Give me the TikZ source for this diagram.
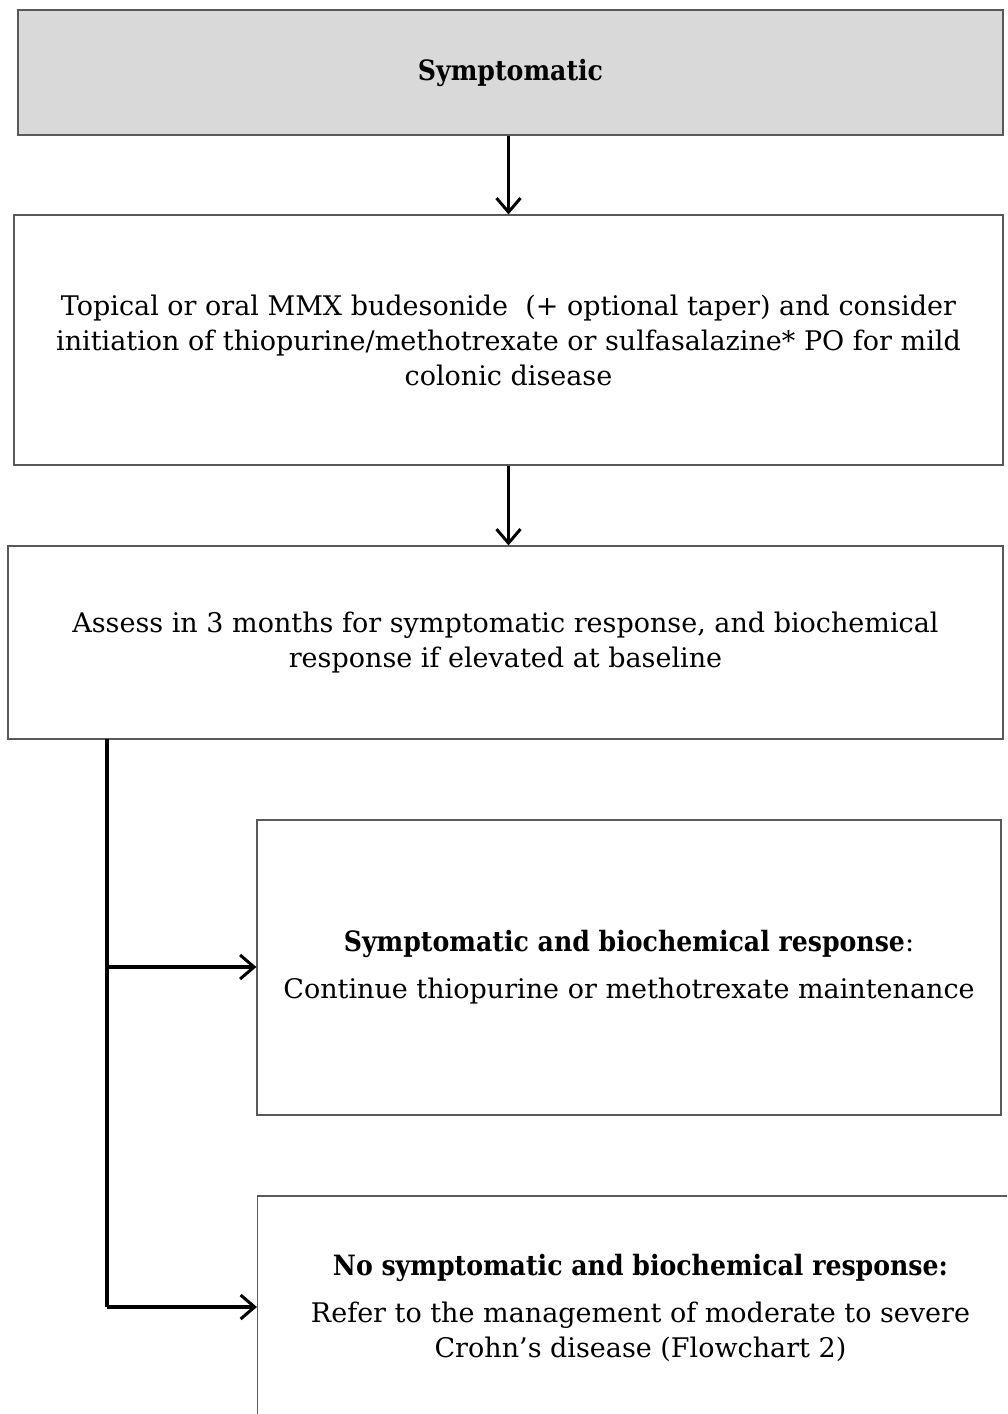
\documentclass[tikz,border=0pt]{standalone}
\usepackage{fontspec}
\setmainfont{DejaVu Serif}
\newfontfamily\headfont{DejaVu Serif Condensed}
\usepackage{tikz}
\usetikzlibrary{arrows.meta}

\definecolor{headgray}{RGB}{217,217,217}

\newcommand{\headtxt}[1]{{\headfont\bfseries\fontsize{14}{17.5}\selectfont #1}}

\tikzset{
  flowbox/.style={draw=black!65, line width=0.6pt, align=center, inner sep=0pt,
    font=\fontsize{13.5}{17.5}\selectfont},
  flowarrow/.style={line width=1.5pt, -{Straight Barb[length=7pt,width=12pt,line width=1.5pt]}},
}

\begin{document}
\begin{tikzpicture}[x=0.5pt,y=-0.5pt]

    \useasboundingbox (0,0) rectangle (1007,1414);
    \clip (0,0) rectangle (1007,1414);

    \node [flowbox, fill=headgray, minimum width=492.5pt, minimum height=62.5pt]
        (start) at (510.5,72.5) {\headtxt{Symptomatic}};

    \node [flowbox, minimum width=494.5pt, minimum height=125pt]
        (therapy) at (508.5,340)
        {Topical or oral MMX budesonide~ (+ optional taper) and consider\\
         initiation of thiopurine/methotrexate or sulfasalazine* PO for mild\\
         colonic disease};

    \node [flowbox, minimum width=497.5pt, minimum height=96.5pt]
        (assess) at (505.5,642.5)
        {Assess in 3 months for symptomatic response, and biochemical\\
         response if elevated at baseline};

    \node [flowbox, minimum width=372pt, minimum height=147.5pt]
        (resp) at (629,967.5)
        {\headtxt{Symptomatic and biochemical response}:\\[6pt]
         Continue thiopurine or methotrexate maintenance};

    \node [flowbox, minimum width=383pt, minimum height=112pt]
        (noresp) at (640.5,1308)
        {\headtxt{No symptomatic and biochemical response:}\\[6pt]
         Refer to the management of moderate to severe\\
         Crohn's disease (Flowchart 2)};

    % branch points
    \coordinate (split) at (107,739);
    \coordinate (tee1) at (107,967);
    \coordinate (tee2) at (107,1307);

    \draw [flowarrow] (therapy.north |- start.south) -- (therapy.north);
    \draw [flowarrow] (therapy.north |- therapy.south) -- (therapy.north |- assess.north);

    \draw [line width=2pt] (split) -- (tee2);
    \draw [flowarrow, line width=2pt] (tee1) -- (resp.west |- tee1);
    \draw [flowarrow, line width=2pt] (tee2) -- (noresp.west |- tee2);

\end{tikzpicture}
\end{document}
